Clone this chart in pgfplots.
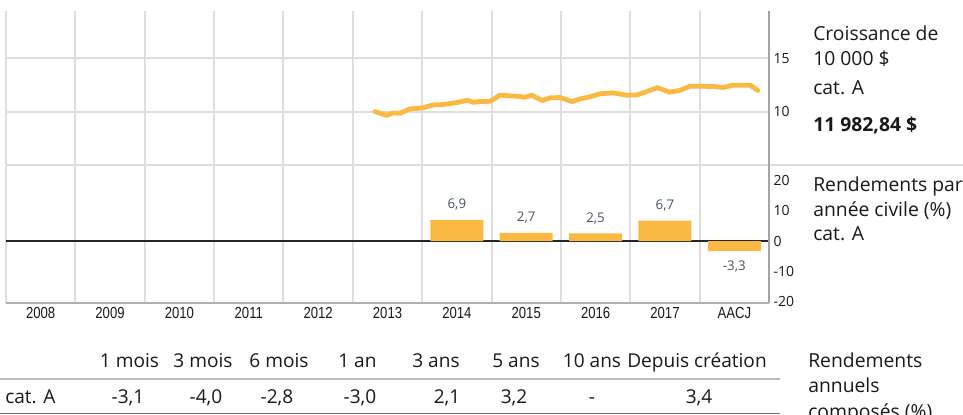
\documentclass[border=0pt]{standalone}
\usepackage{pgfplots}
\pgfplotsset{compat=1.18}
\usepackage{fontspec}
\setmainfont{Open Sans}
\newfontfamily\tickfont[FakeStretch=0.82]{Liberation Sans}
\definecolor{barc}{RGB}{250,185,66}
\definecolor{gridc}{RGB}{222,222,222}
\definecolor{axc}{RGB}{165,165,165}
\definecolor{lblc}{RGB}{70,82,98}
\definecolor{txtc}{RGB}{25,25,25}
\pgfplotsset{/pgf/number format/assume math mode=true}
\begin{document}
\begin{tikzpicture}
\useasboundingbox (0,0) rectangle (722.25pt,-310.5pt);
\clip (0,0) rectangle (722.25pt,-310.5pt);

% ---------- top panel: growth of 10 000 $ ----------
\begin{axis}[
  at={(4.5pt,-123.75pt)}, anchor=south west, scale only axis,
  width=572.25pt, height=115.5pt,
  xmin=-0.5, xmax=10.5, ymin=5, ymax=19.43,
  axis line style={draw=none},
  xtick={-0.5,0.5,...,10.5}, xticklabels={},
  ytick={10,15}, yticklabel pos=right,
  major tick length=0pt,
  grid=major, major grid style={gridc, line width=1.5pt},
  y tick label style={font=\fontsize{10.5}{12}\selectfont, text=txtc},
  clip=false,
]
\addplot[barc, line width=3.6pt, line join=round, line cap=round] coordinates {
(4.82,10.00) (4.99,9.65) (5.08,9.88) (5.18,9.84) (5.32,10.25) (5.50,10.35)
(5.66,10.63) (5.80,10.66) (6.00,10.85) (6.16,11.07) (6.23,10.88) (6.33,10.94)
(6.48,10.97) (6.62,11.54) (6.72,11.50) (6.87,11.44) (6.98,11.35) (7.08,11.54)
(7.23,11.04) (7.34,11.29) (7.49,11.32) (7.66,10.94) (7.78,11.20) (7.92,11.39)
(8.06,11.67) (8.25,11.76) (8.45,11.54) (8.60,11.57) (8.74,11.89) (8.89,12.24)
(9.07,11.82) (9.22,12.00) (9.36,12.39) (9.69,12.36) (9.84,12.26) (9.98,12.48)
(10.23,12.48) (10.34,11.98)
};
\end{axis}

% ---------- bottom panel: calendar-year returns ----------
\begin{axis}[
  at={(4.5pt,-227.25pt)}, anchor=south west, scale only axis,
  width=572.25pt, height=102.75pt,
  xmin=-0.5, xmax=10.5, ymin=-20.4, ymax=24.7,
  axis line style={draw=none},
  xtick={0,...,10},
  xticklabels={2008,2009,2010,2011,2012,2013,2014,2015,2016,2017,AACJ},
  minor xtick={-0.5,0.5,...,10.5},
  xminorgrids, minor grid style={gridc, line width=1.5pt},
  ytick={-20,-10,0,10,20}, yticklabel pos=right,
  major tick length=0pt, minor tick length=0pt,
  extra y ticks={0}, extra y tick labels={},
  extra y tick style={grid=major, major grid style={black!85, line width=1.1pt}},
  x tick label style={font=\tickfont\fontsize{12}{14}\selectfont, text=txtc},
  y tick label style={font=\fontsize{10.5}{12}\selectfont, text=txtc},
  ybar, bar width=39.75pt,
  clip=false,
]
\addplot[fill=barc, draw=none,
  nodes near coords={\pgfmathprintnumber[use comma,fixed,fixed zerofill,precision=1]{\pgfplotspointmeta}},
  every node near coord/.append style={font=\fontsize{10}{12}\selectfont, text=lblc, inner sep=7pt}]
  coordinates {(6,6.9) (7,2.7) (8,2.5) (9,6.7) (10,-3.3)};
\end{axis}

% ---------- frame lines ----------
\draw[gridc, line width=1.5pt] (4.5pt,-123.75pt) -- (722.25pt,-123.75pt);
\draw[gridc!80!black, line width=1.2pt] (4.5pt,-227.25pt) -- (576.75pt,-227.25pt);
\draw[axc, line width=0.9pt] (576.75pt,-8.25pt) -- (576.75pt,-227.25pt);

% ---------- right-hand texts ----------
\begin{scope}[every node/.style={anchor=base west, inner sep=0pt, text=txtc, font=\fontsize{14.5}{17}\selectfont}]
\node at (609.75pt,-30.5pt) {Croissance de};
\node at (609.75pt,-48.75pt) {10 000 \$};
\node at (609.75pt,-70.5pt) {cat. A};
\node[font=\fontsize{14.5}{17}\selectfont\bfseries] at (609.75pt,-98.8pt) {11 982,84 \$};
\node at (609.75pt,-143.8pt) {Rendements par};
\node at (609.75pt,-162.5pt) {année civile (\%)};
\node at (609.75pt,-180.5pt) {cat. A};
\node at (606pt,-275.25pt) {Rendements};
\node at (606pt,-294pt) {annuels};
\node at (606pt,-313.5pt) {composés (\%)};
\end{scope}

% ---------- table ----------
\draw[gridc!85!black, line width=2.2pt] (0pt,-284.25pt) -- (585pt,-284.25pt);
\draw[black!55, line width=0.9pt] (0pt,-310.1pt) -- (585pt,-310.1pt);
\begin{scope}[every node/.style={anchor=base, inner sep=0pt, text=txtc, font=\fontsize{14.3}{17}\selectfont}]
\node at (97.1pt,-275.5pt) {1 mois};
\node at (152.25pt,-275.5pt) {3 mois};
\node at (209.25pt,-275.5pt) {6 mois};
\node at (268.1pt,-275.5pt) {1 an};
\node at (327pt,-275.5pt) {3 ans};
\node at (387pt,-275.5pt) {5 ans};
\node at (444pt,-275.5pt) {10 ans};
\node at (522.75pt,-275.5pt) {Depuis création};
\node[anchor=base west] at (3.75pt,-302.5pt) {cat. A};
\node at (96pt,-302.5pt) {-3,1};
\node at (154.5pt,-302.5pt) {-4,0};
\node at (207.75pt,-302.5pt) {-2,8};
\node at (270pt,-302.5pt) {-3,0};
\node at (335.25pt,-302.5pt) {2,1};
\node at (385.5pt,-302.5pt) {3,2};
\node at (444pt,-302.5pt) {-};
\node at (524.25pt,-302.5pt) {3,4};
\end{scope}
\end{tikzpicture}
\end{document}
